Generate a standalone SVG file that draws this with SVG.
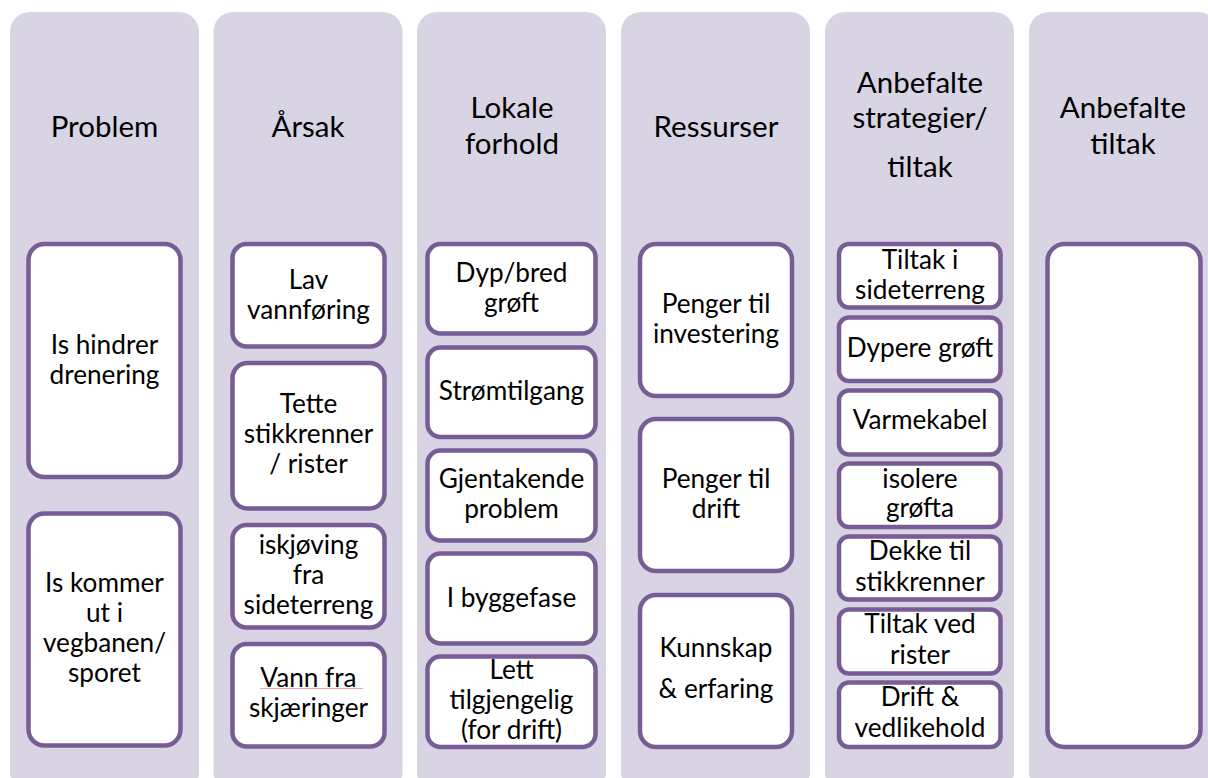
<svg xmlns="http://www.w3.org/2000/svg" width="1208" height="778" viewBox="0 0 1208 778">
<style>
.col{fill:#D8D4E4}
.box{fill:#FFFFFF;stroke:#775C96;stroke-width:4.5}
.h{font-family:Lato,"Open Sans",sans-serif;font-size:29.5px;fill:#000;text-anchor:middle}
.t{font-family:Lato,"Open Sans",sans-serif;font-size:26.2px;fill:#000;text-anchor:middle}
</style>
<rect width="1208" height="778" fill="#FFFFFF"/>
<g id="columns">
<rect class="col" x="10" y="12" width="189" height="780" rx="20"/>
<rect class="col" x="213.5" y="12" width="189" height="780" rx="20"/>
<rect class="col" x="417" y="12" width="189" height="780" rx="20"/>
<rect class="col" x="621" y="12" width="189" height="780" rx="20"/>
<rect class="col" x="825" y="12" width="189" height="780" rx="20"/>
<rect class="col" x="1029" y="12" width="189" height="780" rx="20"/>
</g>
<g id="headers">
<text class="h" x="104.5" y="137">Problem</text>
<text class="h" x="308" y="137">Årsak</text>
<text class="h" x="512" y="118">Lokale</text>
<text class="h" x="512" y="154">forhold</text>
<text class="h" x="716" y="137">Ressurser</text>
<text class="h" x="920" y="93">Anbefalte</text>
<text class="h" x="920" y="128">strategier/</text>
<text class="h" x="920" y="177">tiltak</text>
<text class="h" x="1123" y="118">Anbefalte</text>
<text class="h" x="1123" y="154">tiltak</text>
</g>
<g id="connectors"></g>
<g id="n-problem1"><rect class="box" x="28.5" y="244" width="152" height="233" rx="16"/>
<text class="t" x="104.5" y="354">Is hindrer</text><text class="t" x="104.5" y="384">drenering</text></g>
<g id="n-problem2"><rect class="box" x="28.5" y="513.5" width="152" height="232" rx="16"/>
<text class="t" x="104.5" y="592">Is kommer</text><text class="t" x="104.5" y="622">ut i</text><text class="t" x="104.5" y="652">vegbanen/</text><text class="t" x="104.5" y="682">sporet</text></g>
<g id="n-arsak1"><rect class="box" x="232.5" y="244" width="152" height="102.5" rx="14"/>
<text class="t" x="308.5" y="289">Lav</text><text class="t" x="308.5" y="319">vannføring</text></g>
<g id="n-arsak2"><rect class="box" x="232.5" y="363" width="152" height="145.5" rx="15"/>
<text class="t" x="308.5" y="413">Tette</text><text class="t" x="308.5" y="443">stikkrenner</text><text class="t" x="308.5" y="473">/ rister</text></g>
<g id="n-arsak3"><rect class="box" x="232.5" y="525" width="152" height="102.5" rx="14"/>
<text class="t" x="308.5" y="554">iskjøving</text><text class="t" x="308.5" y="584">fra</text><text class="t" x="308.5" y="614">sideterreng</text></g>
<g id="n-arsak4"><rect class="box" x="232.5" y="644" width="152" height="102.5" rx="14"/>
<text class="t" x="308.5" y="687">Vann fra</text><text class="t" x="308.5" y="717">skjæringer</text>
<line x1="260" y1="688.5" x2="363" y2="688.5" stroke="#F3A3A3" stroke-width="1"/></g>
<g id="n-lokal1"><rect class="box" x="427.5" y="244" width="168" height="89.5" rx="13"/>
<text class="t" x="511.5" y="282">Dyp/bred</text><text class="t" x="511.5" y="312">grøft</text></g>
<g id="n-lokal2"><rect class="box" x="427.5" y="347.5" width="168" height="89.5" rx="13"/>
<text class="t" x="511.5" y="400">Strømtilgang</text></g>
<g id="n-lokal3"><rect class="box" x="427.5" y="450.5" width="168" height="90" rx="13"/>
<text class="t" x="511.5" y="488">Gjentakende</text><text class="t" x="511.5" y="518">problem</text></g>
<g id="n-lokal4"><rect class="box" x="427.5" y="553.5" width="168" height="90" rx="13"/>
<text class="t" x="511.5" y="607">I byggefase</text></g>
<g id="n-lokal5"><rect class="box" x="427.5" y="656.5" width="168" height="90.5" rx="13"/>
<text class="t" x="511.5" y="679">Lett</text><text class="t" x="511.5" y="709">tilgjengelig</text><text class="t" x="511.5" y="739">(for drift)</text></g>
<g id="n-ress1"><rect class="box" x="640" y="244" width="152" height="152" rx="16"/>
<text class="t" x="716" y="313">Penger til</text><text class="t" x="716" y="343">investering</text></g>
<g id="n-ress2"><rect class="box" x="640" y="419" width="152" height="152" rx="16"/>
<text class="t" x="716" y="488">Penger til</text><text class="t" x="716" y="518">drift</text></g>
<g id="n-ress3"><rect class="box" x="640" y="595" width="152" height="152" rx="16"/>
<text class="t" x="716" y="657">Kunnskap</text><text class="t" x="716" y="698">&amp; erfaring</text></g>
<g id="n-strat1"><rect class="box" x="839" y="244" width="161.5" height="63.5" rx="10"/>
<text class="t" x="920" y="269">Tiltak i</text><text class="t" x="920" y="299">sideterreng</text></g>
<g id="n-strat2"><rect class="box" x="839" y="317.5" width="161.5" height="63.5" rx="10"/>
<text class="t" x="920" y="357">Dypere grøft</text></g>
<g id="n-strat3"><rect class="box" x="839" y="390.5" width="161.5" height="64" rx="10"/>
<text class="t" x="920" y="429">Varmekabel</text></g>
<g id="n-strat4"><rect class="box" x="839" y="463.5" width="161.5" height="63.5" rx="10"/>
<text class="t" x="920" y="488">isolere</text><text class="t" x="920" y="517">grøfta</text></g>
<g id="n-strat5"><rect class="box" x="839" y="536.5" width="161.5" height="63" rx="10"/>
<text class="t" x="920" y="560">Dekke til</text><text class="t" x="920" y="591">stikkrenner</text></g>
<g id="n-strat6"><rect class="box" x="839" y="609.5" width="161.5" height="64" rx="10"/>
<text class="t" x="920" y="633">Tiltak ved</text><text class="t" x="920" y="664">rister</text></g>
<g id="n-strat7"><rect class="box" x="839" y="682.5" width="161.5" height="64.5" rx="10"/>
<text class="t" x="920" y="706">Drift &amp;</text><text class="t" x="920" y="737">vedlikehold</text></g>
<g id="n-tiltak1"><rect class="box" x="1047.5" y="244" width="153" height="503" rx="17"/></g>
</svg>
